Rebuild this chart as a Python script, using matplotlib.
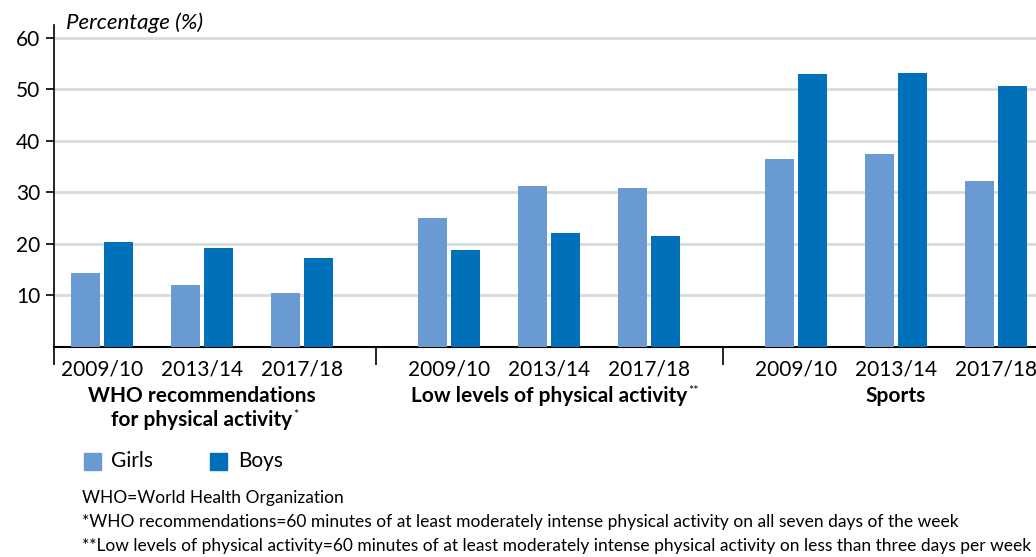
import matplotlib.pyplot as plt
import numpy as np

plt.rcParams['font.family'] = ['Lato', 'DejaVu Sans']

# data
years = ['2009/10', '2013/14', '2017/18']
groups = [['WHO recommendations', 'for physical activity'], ['Low levels of physical activity'], ['Sports']]
marks = ['*', '**', '']
girls = np.array([14.3, 12.1, 10.4, 25.0, 31.3, 30.9, 36.5, 37.5, 32.2])
boys = np.array([20.3, 19.3, 17.2, 18.8, 22.1, 21.5, 53.0, 53.2, 50.6])

girls_col = '#699BD2'
boys_col = '#0070BA'

# x positions: 1 unit between years, wider gap between groups
group_step = 3.47
centers = np.array([g * group_step + i for g in range(3) for i in range(3)])
w = 0.29
off = 0.165

fig = plt.figure(figsize=(10.36, 5.57), dpi=100)
ax = fig.add_axes([54 / 1036, 1 - 347 / 557, 1 - 54 / 1036, 322 / 557])

ax.bar(centers - off, girls, w, color=girls_col, zorder=3)
ax.bar(centers + off, boys, w, color=boys_col, zorder=3)

ax.set_ylim(0, 62.5)
ax.set_xlim(-0.48, 9.34)
ax.set_yticks([10, 20, 30, 40, 50, 60])
ax.yaxis.grid(True, color='#D8DADD', linewidth=2, zorder=0)
ax.tick_params(axis='y', labelsize=15, length=6, width=1.2, pad=4)

# separators between groups as major ticks, year labels as minor ticks
seps = [-0.48, (centers[2] + centers[3]) / 2, (centers[5] + centers[6]) / 2]
ax.set_xticks(seps)
ax.set_xticklabels([])
ax.tick_params(axis='x', which='major', length=13, width=1.2, direction='out')
ax.set_xticks(centers, minor=True)
ax.set_xticklabels(years * 3, minor=True)
ax.tick_params(axis='x', which='minor', length=0, labelsize=15, pad=9)

for s in ['top', 'right']:
    ax.spines[s].set_visible(False)
ax.spines['left'].set_linewidth(1.2)
ax.spines['bottom'].set_linewidth(1.5)

ax.text(0.012, 1.008, 'Percentage (%)', transform=ax.transAxes, fontsize=16,
        style='italic', va='center', ha='left')

tr = ax.get_xaxis_transform()
for g in range(3):
    cx = centers[g * 3 + 1]
    t = None
    for k, line in enumerate(groups[g]):
        t = ax.text(cx, -0.122 - k * 0.075, line, transform=tr, ha='center', va='top',
                    fontsize=15, fontweight='bold')
    if marks[g]:
        ax.annotate(marks[g], xy=(1, 1), xycoords=t, xytext=(0.5, 1),
                    textcoords='offset points', fontsize=9, va='top', ha='left')

# legend
fig.patches.append(plt.Rectangle((84 / 1036, 1 - 470 / 557), 17 / 1036, 17 / 557,
                                 transform=fig.transFigure, color=girls_col))
fig.patches.append(plt.Rectangle((210 / 1036, 1 - 470 / 557), 17 / 1036, 17 / 557,
                                 transform=fig.transFigure, color=boys_col))
fig.text(111 / 1036, 1 - 461 / 557, 'Girls', fontsize=15, va='center')
fig.text(238 / 1036, 1 - 461 / 557, 'Boys', fontsize=15, va='center')

notes = ['WHO=World Health Organization',
         '*WHO recommendations=60 minutes of at least moderately intense physical activity on all seven days of the week',
         '**Low levels of physical activity=60 minutes of at least moderately intense physical activity on less than three days per week']
for i, n in enumerate(notes):
    fig.text(82 / 1036, 1 - (498 + i * 24) / 557, n, fontsize=12.5, va='center')

fig.savefig('out.png', dpi=100)
